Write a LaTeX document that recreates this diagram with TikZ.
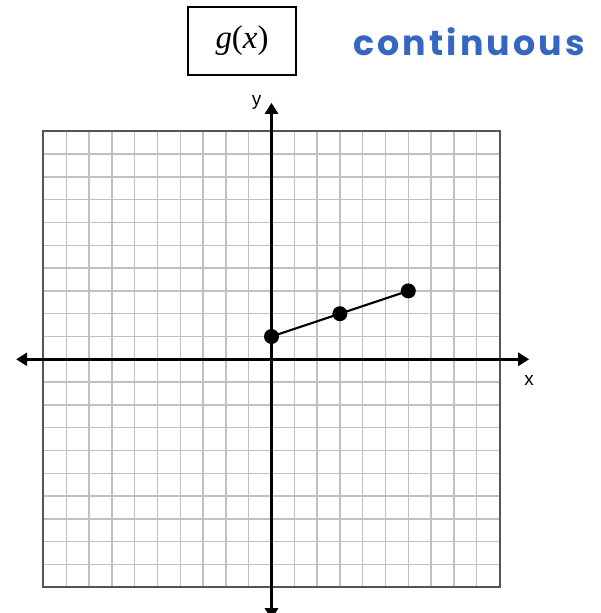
\documentclass[tikz,border=0pt]{standalone}
\usepackage{fontspec}
\setmainfont{Liberation Serif}
\newfontfamily\labfont{Liberation Sans}
\newfontfamily\handfont[LetterSpace=9]{Poppins}
\usetikzlibrary{arrows.meta}
\definecolor{gridgray}{HTML}{C0C0C0}
\definecolor{bordergray}{HTML}{555555}
\definecolor{handblue}{HTML}{3566C0}
\tikzset{
  gridline/.style={gridgray, line width=1.5bp},
  gridborder/.style={bordergray, line width=2bp},
  axisline/.style={line width=3bp, -{Triangle[length=11bp,width=13bp]}},
  ptdot/.style={circle, fill=black, inner sep=0pt, minimum size=15bp},
  segline/.style={line width=2.2bp},
  titlebox/.style={draw, line width=2bp, minimum width=108bp, minimum height=68bp, inner sep=0pt},
  axislabel/.style={font=\labfont\fontsize{19}{19}\selectfont, inner sep=0pt},
  handtext/.style={font=\handfont\bfseries\fontsize{35}{35}\selectfont, text=handblue, inner sep=0pt}
}
\begin{document}
\begin{tikzpicture}[x=1bp,y=-1bp]
\useasboundingbox (0,0) rectangle (601,613);
\node[titlebox] (title) at (242,41) {\fontsize{33}{33}\selectfont\textit{g}(\textit{x})};
\node[handtext, anchor=west] (cont) at (353,42) {continuous};
\begin{scope}[shift={(271.5,359.3)}, x=22.8bp, y=22.8bp]
  \foreach \k in {-9,...,9} {
    \draw[gridline] (\k,-10) -- (\k,10);
    \draw[gridline] (-10,\k) -- (10,\k);
  }
  \draw[gridborder] (-10,-10) rectangle (10,10);
  \coordinate (xl) at (-11.2,0);
  \coordinate (xr) at (11.3,0);
  \coordinate (yb) at (0,-11.4);
  \coordinate (yt) at (0,11.25);
  \draw[axisline] (0,0) -- (xl);
  \draw[axisline] (0,0) -- (xr);
  \draw[axisline] (0,0) -- (yb);
  \draw[axisline] (0,0) -- (yt);
  \node[axislabel] (xlab) at (11.3,-0.95) {x};
  \node[axislabel] (ylab) at (-0.65,11.25) {y};
  \node[ptdot] (p0) at (0,1) {};
  \node[ptdot] (p1) at (3,2) {};
  \node[ptdot] (p2) at (6,3) {};
  \draw[segline] (p0.center) -- (p1.center) -- (p2.center);
\end{scope}
\end{tikzpicture}
\end{document}
